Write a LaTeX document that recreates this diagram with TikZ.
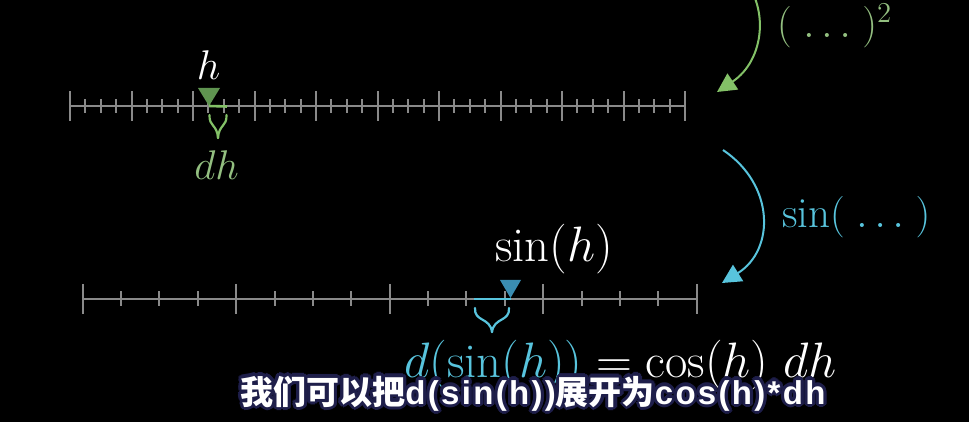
\documentclass[tikz,border=0pt]{standalone}
\usepackage{fontspec}
\newfontfamily\cjk{Noto Sans CJK SC}
\newfontfamily\subfont{Liberation Sans}[LetterSpace=7]
\usetikzlibrary{positioning,arrows.meta}
\definecolor{axisgray}{HTML}{8A8A8A}
\definecolor{mgreen}{HTML}{83C167}
\definecolor{lgreen}{HTML}{93BF80}
\definecolor{dgreen}{HTML}{5F9450}
\definecolor{mblue}{HTML}{58C4DD}
\definecolor{dblue}{HTML}{3A8DB2}
\definecolor{subedge}{HTML}{1E1E4A}
\newcommand*{\mtx}[2][21.5]{\fontsize{#1}{#1}\selectfont$#2$}
\newcommand*{\subtext}{{\cjk 我们可以把}{\subfont d(sin(h))}{\cjk 展开为}{\subfont cos(h)*dh}}

\begin{document}
\begin{tikzpicture}[x=0.5pt,y=-0.5pt,
  axis/.style={draw=axisgray,line width=1pt},
  nudge/.style={line width=1.3pt},
  bracestroke/.style={line width=1.1pt,line cap=round},
  maparrow/.style={line width=1pt,-{Triangle[length=9.5pt,width=9.5pt]}},
  subline/.style={anchor=base,font=\bfseries\fontsize{16.5}{18}\selectfont}]
\fill[black] (0,0) rectangle (969,422);
\useasboundingbox (0,0) rectangle (969,422);
% Upper number line with major and minor ticks
\draw[axis] (70,106.5) coordinate (ua) -- (685,106.5) coordinate (ub);
\foreach \k in {0,...,10}
  \draw[axis] ({70+61.5*\k},91.5) -- ++(0,30);
\foreach \k in {0,...,9}
  \foreach \j in {1,2,3}
    \draw[axis] ({70+61.5*\k+15.375*\j},99.5) -- ++(0,14);
% Marker h and the small step dh
\fill[dgreen] (198,88) -- (220,88) -- (209,106) coordinate (hpt) -- cycle;
\draw[nudge,mgreen] (hpt) -- (227,106.5) coordinate (hdh);
\draw[bracestroke,mgreen] (209.5,115) .. controls (209,127) and (217,124) .. (218,138) coordinate (htip);
\draw[bracestroke,mgreen] (226.5,115) .. controls (227,127) and (219,124) .. (htip);
\node[anchor=base,white] (hlbl) at (208.5,80) {\mtx{h}};
\node[anchor=base,lgreen] (dhlbl) at (216.5,180) {\mtx{dh}};
% Lower number line
\draw[axis] (82.7,299) coordinate (la) -- (696.7,299) coordinate (lb);
\foreach \k in {0,...,4}
  \draw[axis] ({82.7+153.5*\k},284) -- ++(0,30);
\foreach \k in {0,...,3}
  \foreach \j in {1,2,3}
    \draw[axis] ({82.7+153.5*\k+38.375*\j},291.5) -- ++(0,14.5);
% Marker sin(h) and its step
\fill[dblue] (500,280) -- (521,280) -- (510.5,298) coordinate (spt) -- cycle;
\draw[nudge,mblue] (474,299) coordinate (sdh) -- (spt |- sdh);
\draw[bracestroke,mblue] (475,308) .. controls (474,322) and (490,317) .. (492,332) coordinate (stip);
\draw[bracestroke,mblue] (509,308) .. controls (510,322) and (494,317) .. (stip);
\node[anchor=base,white] (slbl) at (554,262) {\mtx[24.3]{\sin(h)}};
% Resulting formula
\node[anchor=base west,white] (eq) at (397,377)
  {\mtx[24.3]{{\color{mblue}d(\sin(h))} = \cos(h)\ dh}};
% Curved arrows for the two maps
\coordinate (sqa) at (740,-25);
\coordinate (sqb) at (717,92);
\draw[maparrow,mgreen] (sqa) .. controls (770,5) and (765,60) .. (sqb);
\node[anchor=base west,lgreen] (sqlbl) at (770,38) {\mtx{(\;\ldots\;)^2}};
\coordinate (sna) at (723,150);
\coordinate (snb) at (722,283);
\draw[maparrow,mblue] (sna) .. controls (775,185) and (775,250) .. (snb);
\node[anchor=base west,mblue] (snlbl) at (775,228) {\mtx{\sin(\;\ldots\;)}};
% Subtitle with its dark edge
\foreach \a in {0,30,...,330}
  \node[subline,subedge] (subedge\a) at ([shift={(\a:1.6pt)}]533,404) {\subtext};
\node[subline,white] (sub) at (533,404) {\subtext};
\end{tikzpicture}
\end{document}
